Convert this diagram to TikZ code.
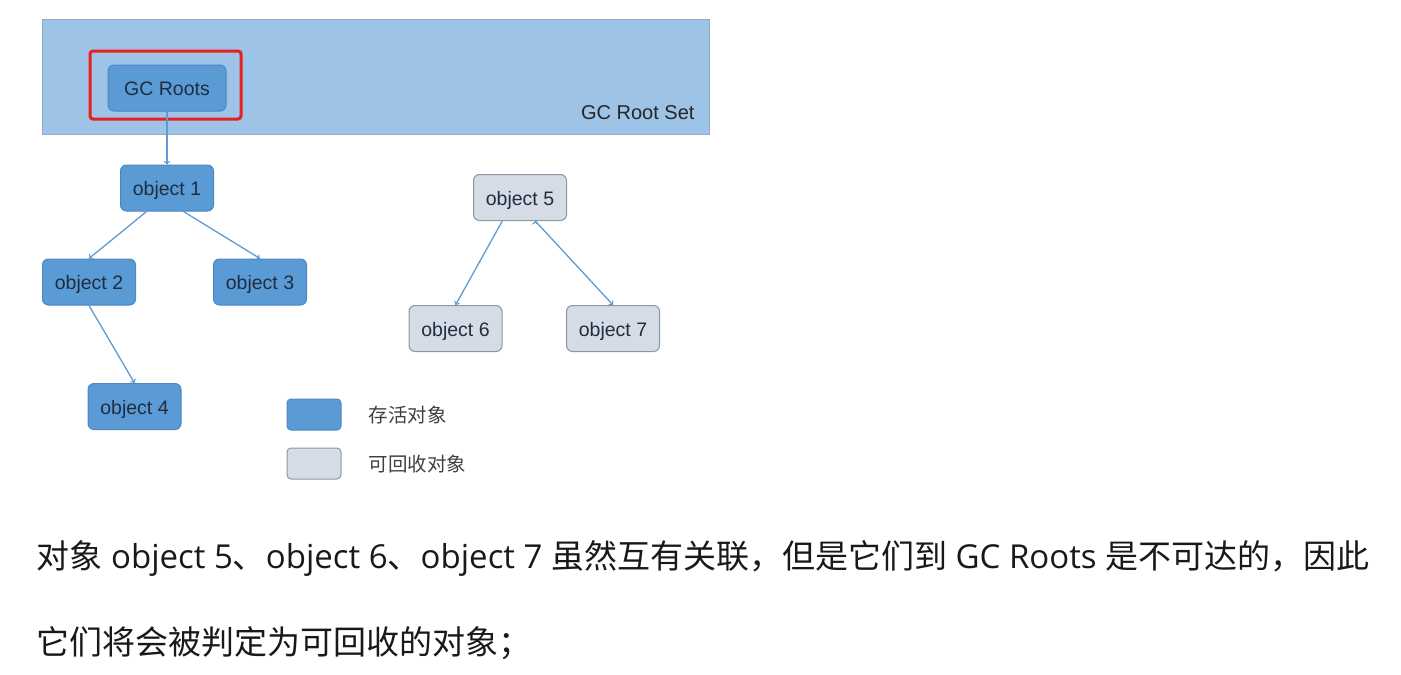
\documentclass[tikz,border=0pt]{standalone}
\usepackage{fontspec}
\setmainfont{Liberation Sans}
\newfontfamily\cjk{Noto Sans CJK SC}
\newfontfamily\notelatin{Open Sans}
\usetikzlibrary{positioning}

\definecolor{rootband}{RGB}{157,195,230}
\definecolor{bandedge}{RGB}{150,170,195}
\definecolor{liveblue}{RGB}{91,155,213}
\definecolor{liveedge}{RGB}{75,135,195}
\definecolor{deadgray}{RGB}{214,220,229}
\definecolor{deadedge}{RGB}{140,150,165}
\definecolor{labelink}{RGB}{30,45,64}
\definecolor{linkblue}{RGB}{95,155,210}
\definecolor{rootred}{RGB}{235,30,30}

\newcommand{\lat}[1]{{\notelatin #1}}

\begin{document}
\begin{tikzpicture}[x=1pt, y=-1pt, node distance=100pt, on grid,
    obj/.style={rectangle, rounded corners=6pt, minimum width=93pt,
      minimum height=46pt, inner sep=0pt, text=labelink,
      text height=15pt, text depth=0pt,
      font=\fontsize{19.5}{22}\selectfont},
    live/.style={obj, fill=liveblue, draw=liveedge, line width=1pt},
    dead/.style={obj, fill=deadgray, draw=deadedge, line width=1pt},
    keytext/.style={anchor=west, text=black!75, font=\cjk\fontsize{19.5}{22}\selectfont},
    note/.style={anchor=west, text=black!90, font=\cjk\fontsize{33}{36}\selectfont},
    link/.style={->, draw=linkblue, line width=1.3pt}]
  \useasboundingbox (0,0) rectangle (1401,675);

  % root set band
  \draw[fill=rootband, draw=bandedge, line width=0.8pt] (42,19) rectangle (709,134);
  \node[anchor=east, text=black!85, font=\fontsize{20}{22}\selectfont] (rsl) at (698,113) {GC Root Set};
  \node[live, minimum width=118pt] (gc) at (167,88) {GC Roots};
  \draw[draw=rootred, line width=3pt, rounded corners=3pt] (90,51) rectangle (241,119);

  % reachable objects
  \node[live, below=100pt of gc] (o1) {object 1};
  \node[live, below left=94pt and 78pt of o1] (o2) {object 2};
  \node[live, below right=94pt and 93pt of o1] (o3) {object 3};
  \node[live, below right=124.5pt and 45.5pt of o2] (o4) {object 4};

  % unreachable objects
  \node[dead] (o5) at (520,197.5) {object 5};
  \node[dead, below left=131pt and 64.5pt of o5] (o6) {object 6};
  \node[dead, below right=131pt and 93pt of o5] (o7) {object 7};

  \path[link]
    (gc) edge (o1)
    (o1.-131) edge (o2.north)
    (o1.-55) edge (o3.north)
    (o2.south) edge (o4.north)
    (o5.-127) edge (o6.north)
    (o5.-57) edge (o7.north);

  % legend
  \node[live, minimum width=54pt, minimum height=31pt, rounded corners=4pt] (k1) at (314,414.5) {};
  \node[keytext] (k1t) at (365,415) {存活对象};
  \node[dead, minimum width=54pt, minimum height=31pt, rounded corners=4pt] (k2) at (314,463.5) {};
  \node[keytext] (k2t) at (365,464) {可回收对象};

  % caption
  \node[note] (l1) at (33,558) {对象\lat{ object 5}、\lat{object 6}、\lat{object 7 }虽然互有关联，但是它们到\lat{ GC Roots }是不可达的，因此};
  \node[note] (l2) at (33,643) {它们将会被判定为可回收的对象；};
\end{tikzpicture}
\end{document}
